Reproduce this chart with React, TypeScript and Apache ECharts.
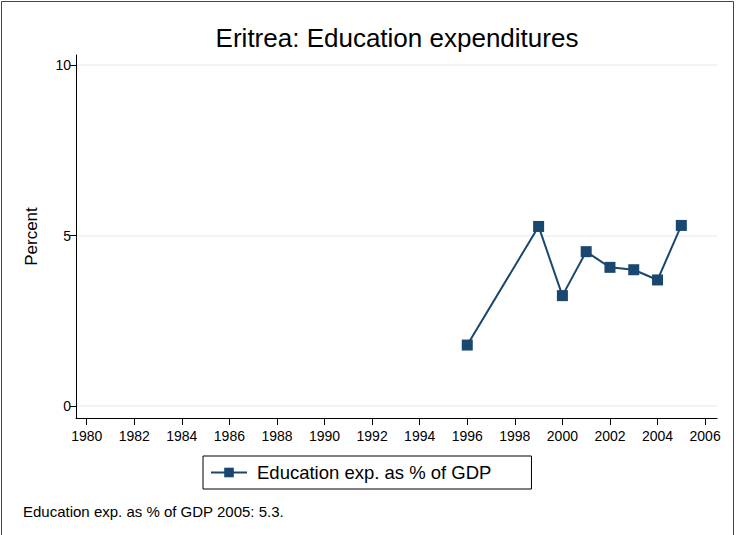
import React, { useEffect, useRef } from "react";
import * as echarts from "echarts";

const titleText = "Eritrea: Education expenditures";
const yAxisTitle = "Percent";
const seriesName = "Education exp. as % of GDP";
const footnote = "Education exp. as % of GDP 2005: 5.3.";
const years = [1996, 1999, 2000, 2001, 2002, 2003, 2004, 2005];
const values = [1.79, 5.27, 3.24, 4.53, 4.07, 4.0, 3.7, 5.3];
const xTicks = [1980, 1982, 1984, 1986, 1988, 1990, 1992, 1994, 1996, 1998, 2000, 2002, 2004, 2006];
const yTicks = [0, 5, 10];

const FONT = "'Liberation Sans', Arial, Helvetica, sans-serif";

export default function App() {
  const ref = useRef<HTMLDivElement>(null);
  useEffect(() => {
    document.body.style.margin = "0";
    if (!ref.current) return;
    const chart = echarts.init(ref.current, null, { renderer: "svg" });
    chart.setOption({
      animation: false,
      backgroundColor: "#ffffff",
      textStyle: { fontFamily: FONT },
      grid: { left: 76, right: 19, top: 55, bottom: 117, containLabel: false },
      xAxis: {
        type: "value",
        min: 1979.55,
        max: 2006.5,
        axisLine: { show: true, onZero: false, lineStyle: { color: "#000", width: 1 } },
        axisTick: { show: true, customValues: xTicks, length: 7, lineStyle: { color: "#000" } },
        axisLabel: {
          show: true,
          customValues: xTicks,
          color: "#000",
          fontSize: 14,
          margin: 11,
          fontFamily: FONT,
          formatter: (v: number) => String(v),
        },
        splitLine: { show: false },
      },
      yAxis: {
        type: "value",
        min: -0.35,
        max: 10.3,
        name: yAxisTitle,
        nameLocation: "middle",
        nameRotate: 90,
        nameGap: 36,
        nameTextStyle: { fontSize: 17, color: "#000", fontFamily: FONT },
        axisLine: { show: true, onZero: false, lineStyle: { color: "#000", width: 1 } },
        axisTick: { show: true, customValues: yTicks, length: 6, lineStyle: { color: "#000" } },
        axisLabel: {
          show: true,
          customValues: yTicks,
          color: "#000",
          fontSize: 14,
          margin: 5,
          fontFamily: FONT,
        },
        splitLine: { show: false },
      },
      legend: {
        show: true,
        left: 203,
        top: 456,
        orient: "horizontal",
        data: [seriesName],
        itemWidth: 36,
        itemHeight: 12,
        itemGap: 10,
        padding: [7, 40, 7, 7],
        borderColor: "#000",
        borderWidth: 1,
        borderRadius: 0,
        textStyle: { fontSize: 18.5, color: "#000", fontFamily: FONT, padding: [0, 0, 0, 5] },
      },
      graphic: [
        {
          type: "text",
          x: 397,
          y: 38,
          style: {
            text: titleText,
            fontSize: 26,
            fontFamily: FONT,
            fill: "#000",
            textAlign: "center",
            textVerticalAlign: "middle",
          },
        },
        {
          type: "text",
          x: 23,
          y: 511,
          style: {
            text: footnote,
            fontSize: 15,
            fontFamily: FONT,
            fill: "#000",
            textAlign: "left",
            textVerticalAlign: "middle",
          },
        },
        {
          type: "polyline",
          shape: { points: [[1.5, 540], [1.5, 1.5], [733.5, 1.5], [733.5, 540]] },
          style: { stroke: "#444", lineWidth: 1, fill: null },
          silent: true,
        },
      ],
      series: [
        {
          name: seriesName,
          type: "line",
          data: years.map((y, i) => [y, values[i]]),
          symbol: "rect",
          symbolSize: 11,
          showSymbol: true,
          itemStyle: { color: "#1a476f" },
          lineStyle: { color: "#1a476f", width: 2 },
          markLine: {
            silent: true,
            symbol: "none",
            label: { show: false },
            lineStyle: { color: "#eaf2f3", width: 1.5, type: "solid" },
            data: yTicks.map((v) => ({ yAxis: v })),
            z: 0,
          },
        },
      ],
    });
    return () => chart.dispose();
  }, []);
  return <div ref={ref} style={{ width: 736, height: 535 }} />;
}
